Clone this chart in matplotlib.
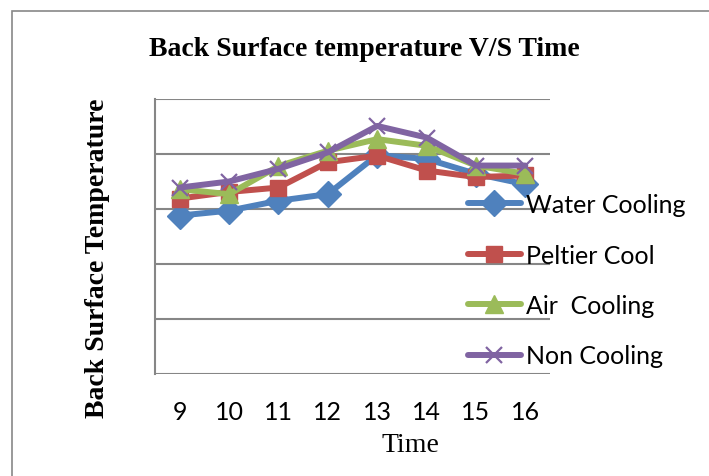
import matplotlib.pyplot as plt
from matplotlib.patches import Rectangle

# Back surface temperature readings for each cooling method
hours = [9, 10, 11, 12, 13, 14, 15, 16]
water_cooling = [28.8, 29.7, 31.5, 32.7, 39.8, 39.1, 36.4, 34.5]
peltier_cool = [31.9, 33.1, 33.9, 38.5, 39.7, 37.0, 35.8, 36.1]
air_cooling = [33.6, 32.7, 37.8, 40.6, 42.7, 41.5, 37.9, 36.4]
non_cooling = [33.9, 35.0, 37.3, 40.3, 45.1, 43.0, 37.9, 37.9]

series = [
    ("Water Cooling", water_cooling, "#4F81BD", "D", 13),
    ("Peltier Cool", peltier_cool, "#C0504D", "s", 11.5),
    ("Air  Cooling", air_cooling, "#9BBB59", "^", 13),
    ("Non Cooling", non_cooling, "#8064A2", "x", 12),
]

W, H = 709, 477
fig = plt.figure(figsize=(W / 100, H / 100), dpi=100)

# outer chart frame (only top and left edges show)
fig.patches.append(Rectangle((12 / W, -0.1), 1.2, (H - 12) / H + 0.1,
                             transform=fig.transFigure, fill=False,
                             edgecolor="#888888", linewidth=1.2))

ax = fig.add_axes([155 / W, 1 - 375 / H, 395 / W, 275 / H])
pos = list(range(len(hours)))

for label, vals, color, marker, ms in series:
    ax.plot(pos, vals, color=color, linewidth=4.3, marker=marker,
            markersize=ms, markeredgecolor=color,
            markeredgewidth=1.6 if marker == "x" else 1,
            label=label, solid_capstyle="round")

ax.set_xlim(-0.5, len(hours) - 0.5)
ax.set_ylim(0, 50)
ax.set_yticks([0, 10, 20, 30, 40, 50])
ax.set_yticklabels([])
ax.set_xticks(pos)
ax.set_xticklabels([str(h) for h in hours], fontfamily="Lato", fontsize=18)
ax.tick_params(axis="both", length=0)
ax.tick_params(axis="x", pad=19)
ax.grid(axis="y", color="#868686", linewidth=1.5)
ax.set_axisbelow(True)
for side in ["top", "right", "bottom"]:
    ax.spines[side].set_visible(False)
ax.spines["left"].set_color("#868686")
ax.spines["left"].set_linewidth(1.5)

fig.text(364 / W, 1 - 50 / H, "Back Surface temperature V/S Time",
         fontfamily="Liberation Serif", fontweight="bold", fontsize=20,
         ha="center", va="center")
fig.text(98 / W, 1 - 258 / H, "Back Surface Temperature",
         fontfamily="Liberation Serif", fontweight="bold", fontsize=20,
         ha="center", va="center", rotation=90)
fig.text(410 / W, 1 - 445 / H, "Time", fontfamily="Liberation Serif",
         fontsize=20, ha="center", va="center")

ax.legend(loc="upper left", bbox_to_anchor=(458 / W, 1 - 184 / H),
          bbox_transform=fig.transFigure, frameon=False,
          prop={"family": "Lato", "size": 18}, handlelength=2.1,
          handletextpad=0.2, labelspacing=1.1, borderaxespad=0)

fig.savefig("out.png", dpi=100)
